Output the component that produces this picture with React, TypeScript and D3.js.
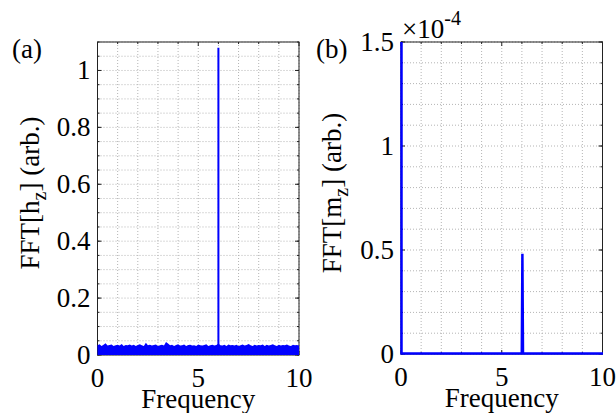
import React from "react";
import * as d3 from "d3";

// panel (a): noise floor envelope of FFT[hz], sampled every 0.1 in frequency
const hzNoise = [
  0.034, 0.038, 0.032, 0.036, 0.041, 0.033, 0.035, 0.037, 0.032, 0.034,
  0.036, 0.033, 0.039, 0.032, 0.035, 0.034, 0.037, 0.033, 0.036, 0.032,
  0.035, 0.038, 0.034, 0.032, 0.043, 0.034, 0.036, 0.033, 0.035, 0.037,
  0.032, 0.034, 0.036, 0.033, 0.046, 0.040, 0.034, 0.036, 0.032, 0.035,
  0.038, 0.033, 0.034, 0.037, 0.032, 0.035, 0.036, 0.033, 0.034, 0.032,
  0.037, 0.034, 0.033, 0.035, 0.038, 0.032, 0.034, 0.036, 0.033, 0.035,
  0.040, 0.034, 0.033, 0.036, 0.032, 0.037, 0.034, 0.035, 0.033, 0.036,
  0.032, 0.034, 0.037, 0.033, 0.035, 0.039, 0.034, 0.032, 0.036, 0.033,
  0.035, 0.034, 0.037, 0.032, 0.036, 0.033, 0.035, 0.038, 0.034, 0.032,
  0.036, 0.033, 0.035, 0.034, 0.037, 0.033, 0.032, 0.036, 0.034, 0.035, 0.033,
];
const hzPeakFreq = 6;
const hzPeakAmp = 1.08;

// panel (b): FFT[mz] in units of 1e-4
const mzFreq = [0, 0, 0.03, 5.97, 6, 6.03, 10];
const mzAmp = [3, 0, 0, 0, 0.48, 0, 0];

const xTicks = [0, 5, 10];
const hzTicks = [0, 0.2, 0.4, 0.6, 0.8, 1];
const mzTicks = [0, 0.5, 1, 1.5];

const FONT = "'Liberation Serif', 'Times New Roman', serif";
const BLUE = "#0000ff";
const FS = 27;

type PanelProps = {
  left: number;
  right: number;
  top: number;
  bottom: number;
  yMax: number;
  yGridStep: number;
  yTicks: number[];
  label: string;
  sub: string;
  tag: string;
  tagX: number;
  labelX: number;
  clipId: string;
  children: (x: d3.ScaleLinear<number, number>, y: d3.ScaleLinear<number, number>) => React.ReactNode;
};

function Panel(p: PanelProps) {
  const x = d3.scaleLinear().domain([0, 10]).range([p.left, p.right]);
  const y = d3.scaleLinear().domain([0, p.yMax]).range([p.bottom, p.top]);
  const xGrid = d3.range(0, 10.001, 1);
  const yGrid = d3.range(0, p.yMax + 1e-9, p.yGridStep);
  const midY = 193;
  return (
    <g fontFamily={FONT} fill="#000">
      <clipPath id={p.clipId}>
        <rect x={p.left - 2} y={p.top} width={p.right - p.left + 4} height={p.bottom - p.top + 2} />
      </clipPath>
      <rect x={p.left} y={p.top} width={p.right - p.left} height={p.bottom - p.top} fill="#fff" />
      {xGrid.map((v) => (
        <line key={"gx" + v} x1={x(v)} x2={x(v)} y1={p.top} y2={p.bottom}
          stroke="#b4b4b4" strokeWidth={1} strokeDasharray="1,2" />
      ))}
      {yGrid.map((v, i) => (
        <line key={"gy" + i} x1={p.left} x2={p.right} y1={y(v)} y2={y(v)}
          stroke="#b4b4b4" strokeWidth={1} strokeDasharray="1,2" />
      ))}
      {xGrid.map((v) => (
        <g key={"tx" + v} stroke="#222" strokeWidth={1}>
          <line x1={x(v)} x2={x(v)} y1={p.bottom} y2={p.bottom - (xTicks.includes(v) ? 4 : 2)} />
          <line x1={x(v)} x2={x(v)} y1={p.top} y2={p.top + (xTicks.includes(v) ? 4 : 2)} />
        </g>
      ))}
      {yGrid.map((v, i) => (
        <g key={"ty" + i} stroke="#222" strokeWidth={1}>
          <line x1={p.left} x2={p.left + 2} y1={y(v)} y2={y(v)} />
          <line x1={p.right} x2={p.right - 2} y1={y(v)} y2={y(v)} />
        </g>
      ))}
      {p.yTicks.map((v) => (
        <g key={"my" + v} stroke="#222" strokeWidth={1}>
          <line x1={p.left} x2={p.left + 4} y1={y(v)} y2={y(v)} />
          <line x1={p.right} x2={p.right - 4} y1={y(v)} y2={y(v)} />
        </g>
      ))}
      <rect x={p.left} y={p.top} width={p.right - p.left} height={p.bottom - p.top}
        fill="none" stroke="#222" strokeWidth={1} />
      <g clipPath={`url(#${p.clipId})`}>{p.children(x, y)}</g>
      {p.yTicks.map((v) => (
        <text key={"ly" + v} x={p.left - 7} y={y(v)} dy="0.33em" textAnchor="end" fontSize={FS}>
          {String(v)}
        </text>
      ))}
      {xTicks.map((v) => (
        <text key={"lx" + v} x={x(v)} y={p.bottom + 32} textAnchor="middle" fontSize={FS}>
          {v}
        </text>
      ))}
      <text x={(p.left + p.right) / 2} y={p.bottom + 53} textAnchor="middle" fontSize={FS}>
        Frequency
      </text>
      <text transform={`translate(${p.labelX},${midY}) rotate(-90)`} textAnchor="middle" fontSize={FS}>
        {p.label}
        <tspan dy={7} fontSize={20}>{p.sub}</tspan>
        <tspan dy={-7}>] (arb.)</tspan>
      </text>
      <text x={p.tagX} y={58} fontSize={FS}>{p.tag}</text>
    </g>
  );
}

export default function App() {
  const width = 616;
  const height = 413;
  const noiseData = hzNoise.map((v, i) => [i * 0.1, v] as [number, number]);
  const mzData = mzFreq.map((f, i) => [f, mzAmp[i]] as [number, number]);
  return (
    <svg width={width} height={height} style={{ position: "absolute", left: 0, top: 0, background: "#fff" }}>
      <Panel left={97.5} right={299} top={42} bottom={355} yMax={1.1} yGridStep={0.05}
        yTicks={hzTicks} label="FFT[h" sub="z" tag="(a)" tagX={12}
        labelX={39} clipId="clipA">
        {(x, y) => {
          const area = d3.area<[number, number]>().x((d) => x(d[0])).y0(y(0)).y1((d) => y(d[1]));
          return (
            <>
              <path d={area(noiseData) ?? ""} fill={BLUE} />
              <line x1={x(hzPeakFreq)} x2={x(hzPeakFreq)} y1={y(0)} y2={y(hzPeakAmp)} stroke={BLUE} strokeWidth={2} />
            </>
          );
        }}
      </Panel>
      <Panel left={401} right={602.5} top={42} bottom={354} yMax={1.5} yGridStep={0.1}
        yTicks={mzTicks} label="FFT[m" sub="z" tag="(b)" tagX={316}
        labelX={341} clipId="clipB">
        {(x, y) => {
          const line = d3.line<[number, number]>().x((d) => x(d[0]) + 0.5).y((d) => y(d[1]) - 0.5);
          return <path d={line(mzData) ?? ""} fill="none" stroke={BLUE} strokeWidth={2.5} />;
        }}
      </Panel>
      <text x={402} y={38} fontFamily={FONT} fontSize={FS}>
        ×10<tspan dy={-13} fontSize={20}>-4</tspan>
      </text>
    </svg>
  );
}
